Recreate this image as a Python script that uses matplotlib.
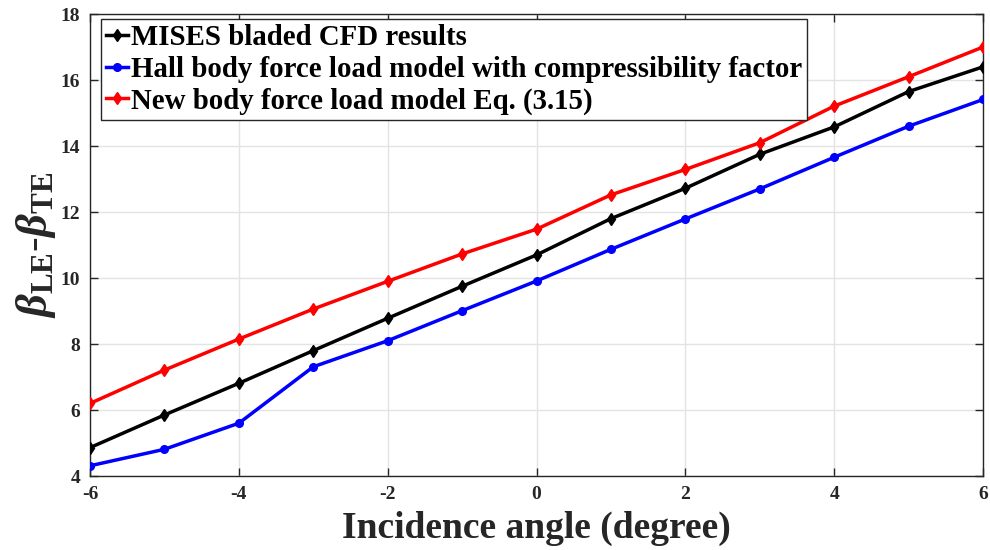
import matplotlib
matplotlib.use("Agg")
import matplotlib.pyplot as plt

incidence = [-6, -5, -4, -3, -2, -1, 0, 1, 2, 3, 4, 5, 6]
mises = [4.86, 5.85, 6.81, 7.80, 8.78, 9.75, 10.70, 11.80, 12.72, 13.75, 14.58, 15.65, 16.40]
hall = [4.31, 4.81, 5.60, 7.31, 8.10, 9.01, 9.91, 10.87, 11.79, 12.70, 13.66, 14.60, 15.41]
new_model = [6.20, 7.21, 8.15, 9.06, 9.90, 10.73, 11.48, 12.52, 13.29, 14.10, 15.21, 16.10, 17.00]

labels = ["MISES bladed CFD results",
          "Hall body force load model with compressibility factor",
          "New body force load model Eq. (3.15)"]
xticks = [-6, -4, -2, 0, 2, 4, 6]
yticks = [4, 6, 8, 10, 12, 14, 16, 18]

plt.rcParams['font.family'] = ['Liberation Serif', 'DejaVu Serif']
plt.rcParams['font.weight'] = 'bold'
plt.rcParams['axes.unicode_minus'] = False
plt.rcParams['mathtext.fontset'] = 'custom'
plt.rcParams['mathtext.rm'] = 'Liberation Serif'
plt.rcParams['mathtext.it'] = 'Liberation Serif:italic'
plt.rcParams['mathtext.bf'] = 'Liberation Serif:bold'

fig = plt.figure(figsize=(9.9, 5.5), dpi=100)
ax = fig.add_axes([0.0909, 0.1345, 0.9021, 0.84])

ax.plot(incidence, mises, color='black', lw=2.5, marker='d', ms=6, label=labels[0], zorder=3)
ax.plot(incidence, hall, color='blue', lw=2.5, marker='o', ms=5.5, label=labels[1], zorder=3)
ax.plot(incidence, new_model, color='red', lw=2.5, marker='d', ms=6, label=labels[2], zorder=3)

ax.set_xlim(-6, 6)
ax.set_ylim(4, 18)
ax.set_xticks(xticks)
ax.set_yticks(yticks)
ax.grid(True, color='#e3e3e3', lw=1)
ax.set_axisbelow(True)
ax.tick_params(direction='in', top=True, right=True, length=6, width=1, colors='#262626',
               labelsize=14, pad=7)
for lab in ax.get_xticklabels() + ax.get_yticklabels():
    lab.set_fontweight('bold')
for sp in ax.spines.values():
    sp.set_color('#262626')
    sp.set_linewidth(1)

ax.set_xlabel("Incidence angle (degree)", fontsize=27, fontweight='bold', color='#262626', labelpad=6)
ax.set_ylabel(r'$\beta_{\mathbf{LE}}$-$\beta_{\mathbf{TE}}$', fontsize=32, color='#262626', labelpad=2)

leg = ax.legend(loc='upper left', bbox_to_anchor=(0.012, 0.989),
                prop={'size': 20.8, 'weight': 'bold'},
                handlelength=0.75, handletextpad=0.12, borderpad=0.18, labelspacing=0.16,
                borderaxespad=0.0, fancybox=False, framealpha=1, edgecolor='#262626')
leg.get_frame().set_linewidth(1)

fig.savefig("out.png", dpi=100)
